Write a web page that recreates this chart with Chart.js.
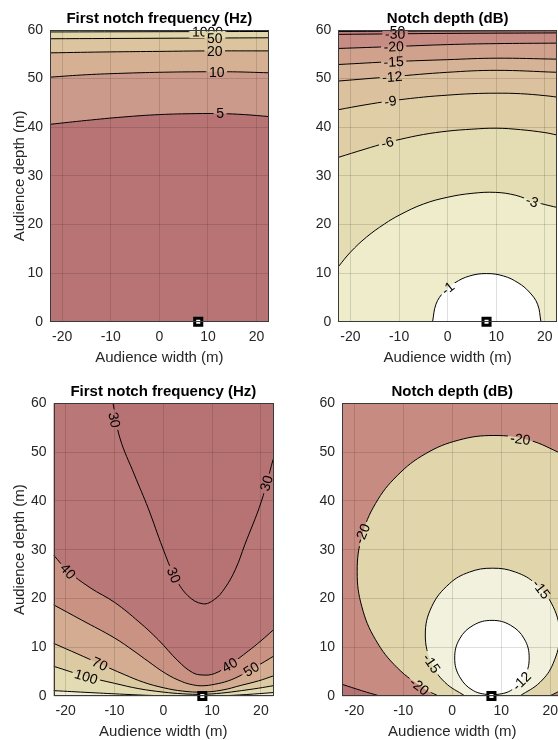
<!DOCTYPE html>
<html>
<head>
<meta charset="utf-8">
<script src="https://cdn.jsdelivr.net/npm/chart.js@4.4.1/dist/chart.umd.min.js"></script>
<style>
  html, body { margin: 0; padding: 0; background: #fff; overflow: hidden; }
  body { width: 558px; height: 740px; position: relative; }
  canvas { position: absolute; }
</style>
</head>
<body>
<canvas id="freqTop"></canvas>
<canvas id="depthTop"></canvas>
<canvas id="freqBottom"></canvas>
<canvas id="depthBottom"></canvas>
<script>
// shared axes
const xTicks = [-20, -10, 0, 10, 20];
const yTicks = [0, 10, 20, 30, 40, 50, 60];
const widthRange = [-22.5, 22.5];
const depthRange = [0, 60];
const source = [[8, 0]];

// top-left: first notch frequency contours, points are [width, depth]
const freqA5 = [[-22.5, 40.6], [-15, 41.4], [-7.5, 42.1], [0, 42.6], [7.5, 42.8], [12.5, 42.8], [17.5, 42.6], [22.5, 42.2]];
const freqA10 = [[-22.5, 50.3], [-15, 50.8], [-7.5, 51.1], [0, 51.3], [7.5, 51.4], [15, 51.4], [22.5, 51.2]];
const freqA20 = [[-22.5, 55.3], [-10, 55.5], [0, 55.6], [10, 55.7], [22.5, 55.7]];
const freqA50 = [[-22.5, 58.2], [0, 58.3], [22.5, 58.4]];
const freqA1000 = [[-22.5, 59.6], [0, 59.65], [22.5, 59.7]];

// top-right: notch depth contours
const depthB1 = [[-3.1, 0], [-2.4, 3.6], [-0.8, 6.1], [1.5, 8.0], [4.5, 9.4], [8, 9.9], [11.5, 9.4], [14.5, 8.0], [16.8, 6.1], [18.5, 3.6], [19.2, 0]];
const depthB3 = [[-22.5, 11.3], [-20, 14.3], [-16.7, 17.4], [-13, 20.1], [-9.8, 22], [-5, 24.2], [0, 25.6], [5, 26.4], [9.9, 26.6], [14, 26], [17.4, 24.8], [20, 24.1], [22.5, 23.5]];
const depthB6 = [[-22.5, 33.8], [-17, 35.5], [-12.6, 36.8], [-9.8, 37.5], [-5, 38.5], [0, 39.2], [5, 39.6], [10, 39.8], [15, 39.5], [20, 38.9], [22.5, 38.4]];
const depthB9 = [[-22.5, 43.6], [-17, 44.6], [-11.8, 45.4], [-5, 46.2], [0, 46.6], [5, 46.9], [10, 47.0], [15, 46.9], [20, 46.5], [22.5, 46.2]];
const depthB12 = [[-22.5, 49.5], [-11.5, 50.4], [0, 51.3], [10, 51.7], [22.5, 51.3]];
const depthB15 = [[-22.5, 52.9], [-11, 53.5], [0, 53.9], [10, 54.2], [22.5, 54.0]];
const depthB20 = [[-22.5, 56.2], [-11, 56.6], [0, 57.0], [10, 57.2], [22.5, 57.3]];
const depthB30 = [[-22.5, 59.1], [0, 59.3], [22.5, 59.4]];
const depthB50 = [[-22.5, 59.7], [0, 59.8], [22.5, 59.85]];

// bottom-left: first notch frequency contours
const freqC30 = [[-10.3, 60], [-8.9, 52.9], [-5.9, 45.3], [-3.1, 38.5], [-0.1, 30.3], [2.3, 24.6], [5, 20.6], [8.1, 18.9], [10.5, 19.8], [12.6, 22.1], [14.8, 26], [16.7, 31], [20.1, 39.9], [22.5, 48.5]];
const freqC40 = [[-22.5, 28.9], [-19.5, 25.6], [-15, 22.2], [-10, 19.2], [-5, 15.2], [-1, 11.5], [3, 7.2], [6, 4.8], [8.1, 4.3], [10.5, 4.6], [13.6, 6.4], [17.4, 9.2], [20, 11.3], [22.5, 13.5]];
const freqC50 = [[-22.5, 18.7], [-16.8, 15.6], [-10, 11.9], [-6, 9.2], [-3.1, 7.1], [0.5, 4.6], [3.7, 3.0], [6, 2.3], [8.1, 2.1], [10.5, 2.4], [13.3, 3.1], [16, 4.3], [18, 5.5], [20, 6.6], [22.5, 8.1]];
const freqC70 = [[-22.5, 10.8], [-17.5, 8.6], [-13, 6.6], [-8, 4.4], [-4, 2.8], [0, 1.7], [4, 1.0], [8, 0.8], [12, 1.2], [16, 2.2], [19.5, 3.1], [22.5, 4.1]];
const freqC100 = [[-22.5, 6.1], [-15.8, 4.0], [-10, 2.6], [-5, 1.5], [0, 0.8], [4, 0.45], [8, 0.35], [12, 0.6], [16, 1.1], [19.5, 1.6], [22.5, 2.1]];
const freqC200 = [[-22.5, 1.1], [-15, 0.7], [-8, 0.35], [-2, 0.1], [4, 0.02], [8, 0], [12, 0.05], [17, 0.3], [22.5, 0.7]];

// bottom-right: notch depth contours (closed rings around the source)
const depthD12 = [[8.1, 0.1], [11.9, 1.1], [14.7, 3.95], [15.7, 7.8], [14.7, 11.7], [11.9, 14.5], [8.1, 15.5], [4.3, 14.5], [1.5, 11.7], [0.5, 7.8], [1.5, 3.95], [4.3, 1.1], [8.1, 0.1]];
const depthD15 = [[2.6, 0], [-1.5, 2.8], [-4.2, 6.7], [-5.5, 12.5], [-4.2, 18.3], [-0.6, 23.0], [3.5, 25.4], [8.2, 26.2], [12.9, 25.4], [17.0, 23.0], [20.6, 18.3], [21.9, 12.5], [20.6, 6.7], [17.9, 2.8], [13.8, 0]];
const depthD20 = [[22.5, 49.6], [15.7, 52.45], [8.5, 53.4], [1.3, 52.45], [-5.45, 49.66], [-11.2, 45.2], [-15.66, 39.45], [-18.45, 32.7], [-19.4, 25.5], [-18.45, 18.3], [-15.66, 11.55], [-11.2, 5.77], [-5.45, 1.34], [-2.8, 0]];
const depthD20b = [[19.8, 0], [21.2, 0.65], [22.5, 1.4]];
const depthD30 = [[-22.5, 2.4], [-18.5, 1.1], [-14.8, 0]];

// contour labels
const labelsA = [
  {text: '1000', x: 9.9, y: 59.65, line: freqA1000},
  {text: '50', x: 11.4, y: 58.35, line: freqA50},
  {text: '20', x: 11.4, y: 55.7, line: freqA20},
  {text: '10', x: 11.8, y: 51.4, line: freqA10},
  {text: '5', x: 12.5, y: 42.8, line: freqA5}
];
const labelsB = [
  {text: '-50', x: -10.8, y: 59.8, line: depthB50},
  {text: '-30', x: -10.8, y: 59.2, line: depthB30},
  {text: '-20', x: -11.1, y: 56.6, line: depthB20},
  {text: '-15', x: -11.1, y: 53.5, line: depthB15},
  {text: '-12', x: -11.4, y: 50.4, line: depthB12},
  {text: '-9', x: -11.8, y: 45.4, line: depthB9},
  {text: '-6', x: -12.4, y: 36.9, line: depthB6},
  {text: '-3', x: 17.4, y: 24.8, line: depthB3},
  {text: '-1', x: 0.0, y: 6.9, line: depthB1}
];
const labelsC = [
  {text: '30', x: -10.0, y: 56.6, line: freqC30},
  {text: '30', x: 2.2, y: 24.8, line: freqC30},
  {text: '30', x: 21.1, y: 43.6, line: freqC30},
  {text: '40', x: -19.5, y: 25.6, line: freqC40},
  {text: '40', x: 13.6, y: 6.4, line: freqC40},
  {text: '50', x: 18.0, y: 5.5, line: freqC50},
  {text: '70', x: -13.0, y: 6.6, line: freqC70},
  {text: '100', x: -15.8, y: 4.0, line: freqC100}
];
const labelsD = [
  {text: '-20', x: 13.9, y: 52.7, line: depthD20},
  {text: '-20', x: -18.4, y: 33.3, line: depthD20},
  {text: '-20', x: -6.7, y: 2.0, line: depthD20},
  {text: '-15', x: 18.2, y: 21.9, line: depthD15},
  {text: '-15', x: -4.2, y: 6.7, line: depthD15},
  {text: '-12', x: 14.1, y: 3.1, line: depthD12}
];

const FONT = "'Liberation Sans', Arial, Helvetica, sans-serif";
const TEXT = '#262626';
const GRID = 'rgba(0,0,0,0.13)';

const panels = [
  {
    id: 'freqTop', title: 'First notch frequency (Hz)', yTitle: true,
    box: {left: 0, top: 0, width: 280, height: 372},
    area: {left: 50, top: 30, right: 268.7, bottom: 321.7},
    titleY: 19, xTitleY: 358,
    base: '#b87475',
    fills: [
      {data: freqA5, fill: 'end', color: '#cc9a8b'},
      {data: freqA10, fill: 'end', color: '#d5b093'},
      {data: freqA20, fill: 'end', color: '#dcc49e'},
      {data: freqA50, fill: 'end', color: '#e1d6aa'},
      {data: freqA1000, fill: 'end', color: '#e9e6c3'}
    ],
    lines: [freqA5, freqA10, freqA20, freqA50, freqA1000],
    labels: labelsA
  },
  {
    id: 'depthTop', title: 'Notch depth (dB)', yTitle: false,
    box: {left: 285, top: 0, width: 280, height: 372},
    area: {left: 338.3, top: 30, right: 557, bottom: 321.7},
    titleY: 19, xTitleY: 358,
    base: '#b87475',
    fills: [
      {data: depthB50, fill: 'start', color: '#be7f7b'},
      {data: depthB30, fill: 'start', color: '#c78c83'},
      {data: depthB20, fill: 'start', color: '#d0a28e'},
      {data: depthB15, fill: 'start', color: '#d6b396'},
      {data: depthB12, fill: 'start', color: '#dbc19e'},
      {data: depthB9, fill: 'start', color: '#dfcea6'},
      {data: depthB6, fill: 'start', color: '#e4dcb2'},
      {data: depthB3, fill: 'start', color: '#eeecca'},
      {data: depthB1, fill: 'start', color: '#ffffff'}
    ],
    lines: [depthB50, depthB30, depthB20, depthB15, depthB12, depthB9, depthB6, depthB3, depthB1],
    labels: labelsB
  },
  {
    id: 'freqBottom', title: 'First notch frequency (Hz)', yTitle: true,
    box: {left: 0, top: 370, width: 285, height: 375},
    area: {left: 53.5, top: 403.3, right: 273.1, bottom: 696},
    titleY: 391.5, xTitleY: 732,
    base: '#b97777',
    fills: [
      {data: freqC30, fill: 'end', color: '#b77374'},
      {data: freqC40, fill: 'start', color: '#c99283'},
      {data: freqC50, fill: 'start', color: '#d4ac92'},
      {data: freqC70, fill: 'start', color: '#dccaa2'},
      {data: freqC100, fill: 'start', color: '#e3dbb2'},
      {data: freqC200, fill: 'start', color: '#f0eed6'}
    ],
    lines: [freqC30, freqC40, freqC50, freqC70, freqC100, freqC200],
    labels: labelsC
  },
  {
    id: 'depthBottom', title: 'Notch depth (dB)', yTitle: false,
    box: {left: 285, top: 370, width: 285, height: 375},
    area: {left: 342, top: 403.3, right: 562.5, bottom: 696},
    titleY: 391.5, xTitleY: 732,
    base: '#c78b82',
    fills: [
      {data: depthD30, fill: 'start', color: '#b87475'},
      {data: depthD20.concat(depthD20b), fill: 'shape', color: '#e0d5ab'},
      {data: depthD15, fill: 'shape', color: '#f2f1dd'},
      {data: depthD12, fill: 'shape', color: '#ffffff'}
    ],
    lines: [depthD30, depthD20, depthD20b, depthD15, depthD12],
    labels: labelsD
  }
];

// angle of the contour (in pixels) nearest to a label, kept upright
function labelAngle(chart, line, px, py) {
  const xs = chart.scales.x, ys = chart.scales.y;
  let best = Infinity, ang = 0;
  for (let i = 0; i < line.length - 1; i++) {
    const ax = xs.getPixelForValue(line[i][0]), ay = ys.getPixelForValue(line[i][1]);
    const bx = xs.getPixelForValue(line[i + 1][0]), by = ys.getPixelForValue(line[i + 1][1]);
    const dx = bx - ax, dy = by - ay;
    const len2 = dx * dx + dy * dy;
    let t = len2 ? ((px - ax) * dx + (py - ay) * dy) / len2 : 0;
    t = Math.max(0, Math.min(1, t));
    const d = Math.hypot(ax + t * dx - px, ay + t * dy - py);
    if (d < best) { best = d; ang = Math.atan2(dy, dx); }
  }
  if (ang > Math.PI / 2) ang -= Math.PI;
  if (ang < -Math.PI / 2) ang += Math.PI;
  return ang;
}

// paints the lowest band, keeps a copy of the filled bands for the label gaps
const contourPlugin = {
  id: 'contour',
  beforeDatasetsDraw(chart, args, opts) {
    const {ctx, chartArea: a} = chart;
    chart.$snap = null;
    ctx.save();
    ctx.fillStyle = opts.base;
    ctx.fillRect(a.left, a.top, a.right - a.left, a.bottom - a.top);
    ctx.restore();
  },
  beforeDatasetDraw(chart, args) {
    const ds = chart.data.datasets[args.index];
    if (ds.kind === 'contour' && !chart.$snap) {
      const c = document.createElement('canvas');
      c.width = chart.canvas.width;
      c.height = chart.canvas.height;
      c.getContext('2d').drawImage(chart.canvas, 0, 0);
      chart.$snap = c;
    }
  },
  afterDatasetsDraw(chart, args, opts) {
    const {ctx} = chart;
    const xs = chart.scales.x, ys = chart.scales.y;
    ctx.save();
    ctx.font = '14px ' + FONT;
    opts.labels.forEach(l => {
      const px = xs.getPixelForValue(l.x), py = ys.getPixelForValue(l.y);
      const a = labelAngle(chart, l.line, px, py);
      const w = ctx.measureText(l.text).width + 5, h = 13;
      if (chart.$snap) {
        ctx.save();
        ctx.translate(px, py);
        ctx.rotate(a);
        ctx.beginPath();
        ctx.rect(-w / 2, -h / 2, w, h);
        ctx.clip();
        ctx.setTransform(1, 0, 0, 1, 0, 0);
        ctx.drawImage(chart.$snap, 0, 0);
        ctx.restore();
      }
      ctx.save();
      ctx.translate(px, py);
      ctx.rotate(a);
      ctx.fillStyle = '#000';
      ctx.textAlign = 'center';
      ctx.textBaseline = 'middle';
      ctx.fillText(l.text, 0, 1);
      ctx.restore();
    });
    ctx.restore();
  },
  afterDraw(chart) {
    const {ctx, chartArea: a} = chart;
    ctx.save();
    ctx.strokeStyle = '#3a3a3a';
    ctx.lineWidth = 1;
    ctx.strokeRect(Math.round(a.left) + 0.5, Math.round(a.top) + 0.5,
      Math.round(a.right - a.left) - 1, Math.round(a.bottom - a.top) - 1);
    ctx.restore();
  }
};

function buildPanel(p) {
  const cv = document.getElementById(p.id);
  cv.style.left = p.box.left + 'px';
  cv.style.top = p.box.top + 'px';
  cv.width = p.box.width;
  cv.height = p.box.height;

  const datasets = [];
  p.fills.forEach((f, i) => {
    datasets.push({
      data: f.data, fill: f.fill, backgroundColor: f.color,
      borderWidth: 0, borderColor: 'transparent', pointRadius: 0, tension: 0.4,
      order: 100 - i
    });
  });
  p.lines.forEach(line => {
    datasets.push({
      kind: 'contour', data: line, fill: false, borderColor: '#000', borderWidth: 1,
      pointRadius: 0, tension: 0.4, order: 5
    });
  });
  datasets.push({
    data: source, showLine: false, pointStyle: 'rect', pointRadius: 5,
    pointBorderWidth: 3, pointBorderColor: '#000', pointBackgroundColor: '#fff',
    clip: false, order: 0
  });

  const titleLH = 18;
  const titleTop = p.titleY - p.box.top - titleLH / 2;
  const titleBottom = p.area.top - p.box.top - titleLH - titleTop;
  const boxBottom = p.box.top + p.box.height;

  new Chart(cv, {
    type: 'line',
    data: {datasets},
    options: {
      responsive: false,
      animation: false,
      events: [],
      layout: {autoPadding: false, padding: {left: 0, top: 0, bottom: 0, right: p.box.left + p.box.width - p.area.right}},
      plugins: {
        legend: {display: false},
        tooltip: {enabled: false},
        title: {
          display: true, text: p.title, fullSize: false, color: '#000',
          font: {family: FONT, size: 15, weight: 'bold', lineHeight: 1.2},
          padding: {top: titleTop, bottom: titleBottom}
        },
        contour: {base: p.base, labels: p.labels}
      },
      scales: {
        x: {
          type: 'linear', min: widthRange[0], max: widthRange[1],
          afterBuildTicks: s => { s.ticks = xTicks.map(v => ({value: v})); },
          afterFit: s => { s.height = boxBottom - p.area.bottom; },
          grid: {color: GRID, drawTicks: false, z: 1},
          border: {display: false},
          ticks: {padding: 7, color: TEXT, font: {family: FONT, size: 14}, maxRotation: 0, autoSkip: false},
          title: {
            display: true, text: 'Audience width (m)', color: TEXT,
            font: {family: FONT, size: 15, lineHeight: 1.2},
            padding: {top: 0, bottom: boxBottom - p.xTitleY - 9}
          }
        },
        y: {
          type: 'linear', min: depthRange[0], max: depthRange[1],
          afterBuildTicks: s => { s.ticks = yTicks.map(v => ({value: v})); },
          afterFit: s => { s.width = p.area.left - p.box.left; },
          grid: {color: GRID, drawTicks: false, z: 1},
          border: {display: false},
          ticks: {padding: 7, color: TEXT, font: {family: FONT, size: 14}, autoSkip: false},
          title: {
            display: p.yTitle, text: 'Audience depth (m)', color: TEXT,
            font: {family: FONT, size: 15, lineHeight: 1.2},
            padding: {top: 11, bottom: 0}
          }
        }
      }
    },
    plugins: [contourPlugin]
  });
}

panels.forEach(buildPanel);
</script>
</body>
</html>
